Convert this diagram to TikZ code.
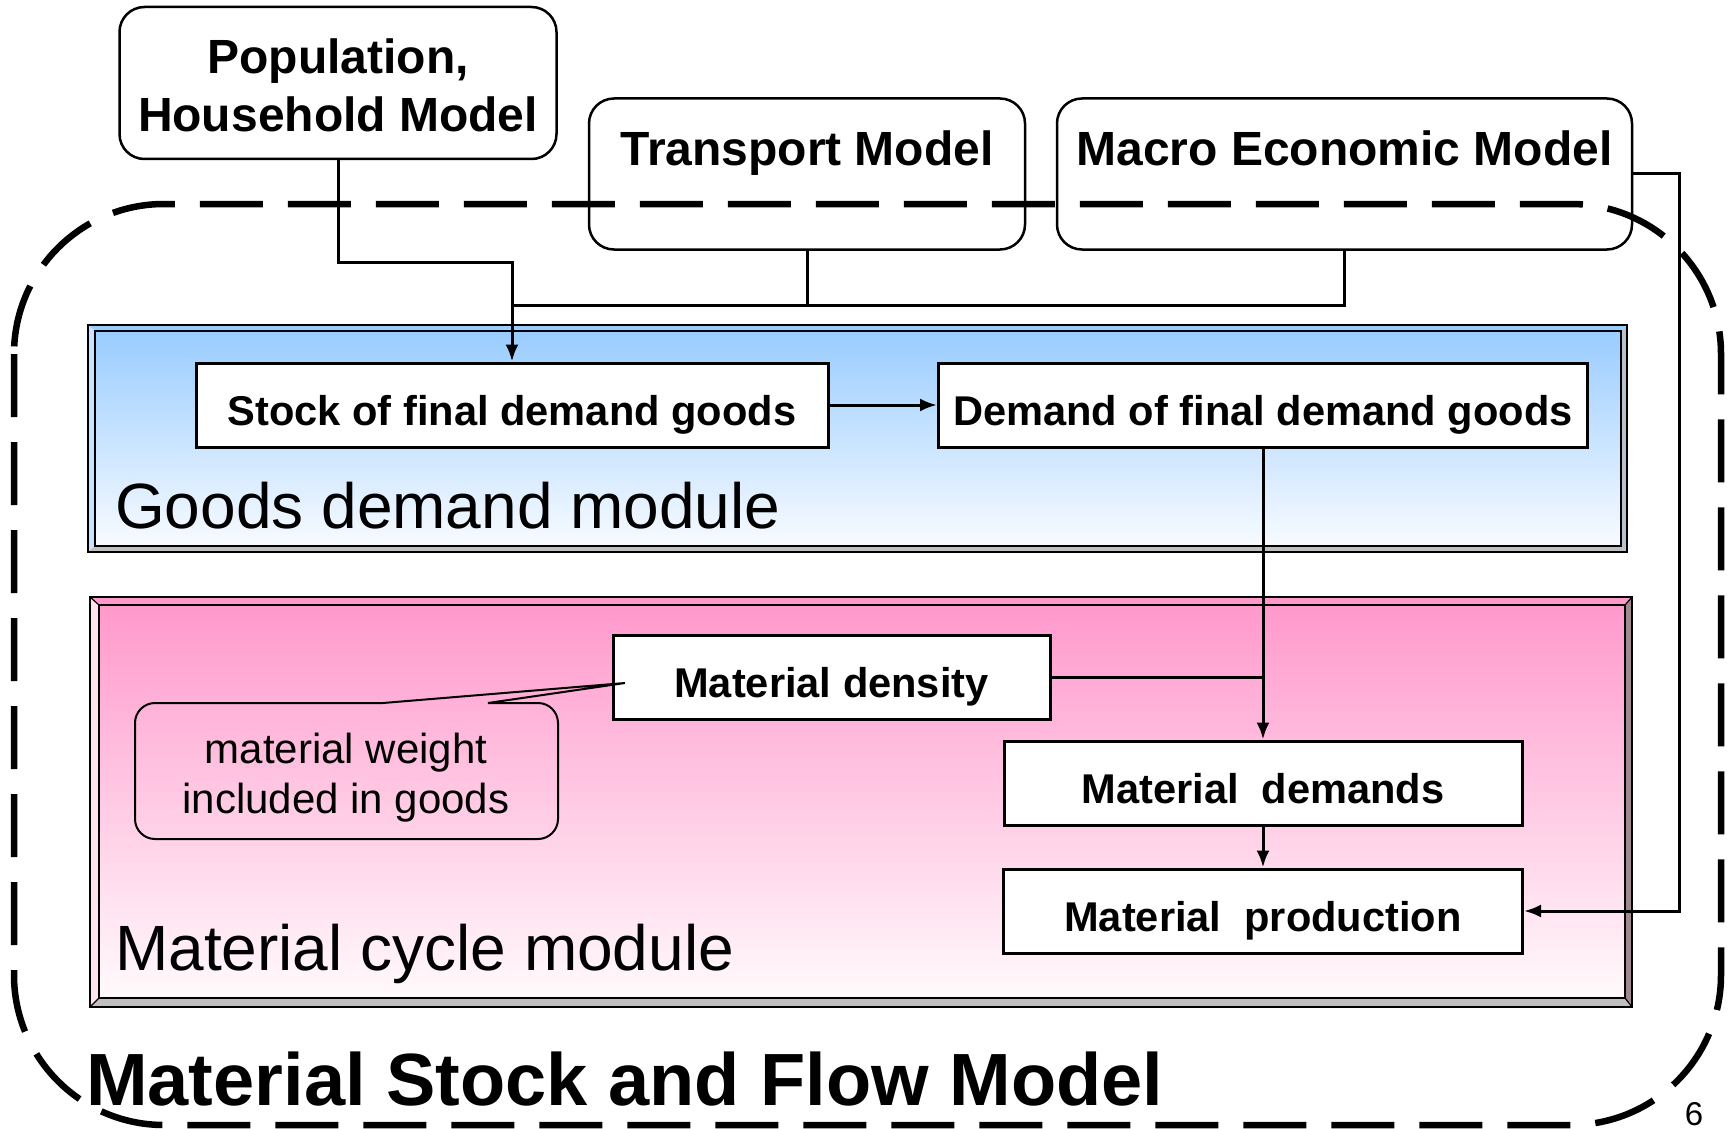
\documentclass[tikz,border=0pt]{standalone}
\usepackage{fontspec}
\setmainfont{Liberation Sans}
\usetikzlibrary{arrows.meta}

\definecolor{blueTop}{HTML}{99CCFF}
\definecolor{blueBot}{HTML}{F8FBFF}
\definecolor{blueEdge}{HTML}{C8E2FF}
\definecolor{pinkTop}{HTML}{FF99CC}
\definecolor{pinkBot}{HTML}{FFFAFC}
\definecolor{pinkEdge}{HTML}{FFE4F0}
\definecolor{bevelGray}{HTML}{C0C0C0}
\definecolor{bevelDark}{HTML}{A08890}

\tikzset{
  topbox/.style={draw, line width=2.5pt, rounded corners=25pt, fill=white, inner sep=0pt},
  topfont/.style={anchor=base, inner sep=0pt, font=\fontsize{48}{58}\selectfont\bfseries},
  flowbox/.style={draw, line width=3pt, fill=white, inner sep=0pt,
                  text height=42pt, text depth=2pt,
                  font=\fontsize{41.6}{50}\selectfont\bfseries},
  modlabel/.style={anchor=base west, inner sep=0pt, font=\fontsize{64}{70}\selectfont},
  conn/.style={line width=3pt},
  arr/.style={conn, -{Latex[length=17pt,width=13pt]}},
  outline/.style={line width=6.5pt, dash pattern=on 63pt off 25pt, rounded corners=150pt},
  edge/.style={draw=black, line width=1.8pt}
}

\begin{document}
\begin{tikzpicture}[x=1pt, y=-1pt]
\useasboundingbox (0,0) rectangle (1733,1129);
\fill[white] (0,0) rectangle (1733,1129);

% ---- goods demand module: bevelled frame with blue fade ----
\fill[blueTop] (88,325) -- (1627,325) -- (1621,331) -- (95,331) -- cycle;
\fill[blueEdge] (88,325) -- (95,331) -- (95,546) -- (88,552) -- cycle;
\fill[bevelGray] (88,552) -- (95,546) -- (1621,546) -- (1627,552) -- cycle;
\fill[bevelGray!80!blueTop] (1627,325) -- (1621,331) -- (1621,546) -- (1627,552) -- cycle;
\shade[top color=blueTop, bottom color=blueBot] (95,331) rectangle (1621,546);
\draw[edge] (88,325) rectangle (1627,552);
\draw[edge] (95,331) rectangle (1621,546);
\node[modlabel] (gdm) at (115,528) {Goods demand module};

% ---- material cycle module: bevelled frame with pink fade ----
\fill[pinkTop] (90,597) -- (1632,597) -- (1625,605) -- (99,605) -- cycle;
\fill[pinkEdge] (90,597) -- (99,605) -- (99,998) -- (90,1007) -- cycle;
\fill[bevelGray] (90,1007) -- (99,998) -- (1625,998) -- (1632,1007) -- cycle;
\fill[bevelDark] (1632,597) -- (1625,605) -- (1625,998) -- (1632,1007) -- cycle;
\shade[top color=pinkTop, bottom color=pinkBot] (99,605) rectangle (1625,998);
\draw[edge] (90,597) rectangle (1632,1007);
\draw[edge] (99,605) rectangle (1625,998);
\draw[line width=1.2pt] (90,597) -- (99,605) (1632,597) -- (1625,605)
      (90,1007) -- (99,998) (1632,1007) -- (1625,998);
\node[modlabel] (mcm) at (115,970) {Material cycle module};

% ---- outside models ----
\node[topbox, minimum width=437pt, minimum height=152pt] (pop) at (338,83) {};
\node[topfont] (poptxt1) at (338,74) {Population,};
\node[topfont] (poptxt2) at (338,132) {Household Model};
\node[topbox, minimum width=436pt, minimum height=151pt] (trans) at (807,174) {};
\node[topfont] (transtxt) at (807,165) {Transport Model};
\node[topbox, minimum width=575pt, minimum height=151pt] (macro) at (1344.5,174) {};
\node[topfont] (macrotxt) at (1344.5,165) {Macro Economic Model};

% ---- process boxes ----
\node[flowbox, minimum width=632pt, minimum height=84pt] (stock) at (512,405) {Stock of final demand goods};
\node[flowbox, minimum width=649pt, minimum height=84pt] (demand) at (1263,405) {Demand of final demand goods};
\node[flowbox, minimum width=437pt, minimum height=84pt] (dens) at (831.5,677) {Material density};
\node[flowbox, minimum width=518pt, minimum height=84pt] (mdem) at (1263,783) {Material~~demands};
\node[flowbox, minimum width=519pt, minimum height=84pt] (mprod) at (1263,911) {Material~~production};

% ---- note attached to the density box ----
\draw[line width=2pt, fill=none] (383,703) -- (625,683) -- (488,703)
      [rounded corners=20pt] -- (558,703) -- (558,839) -- (135,839) -- (135,703) -- (383,703);
\node[align=center, inner sep=0pt, font=\fontsize{42}{50}\selectfont] (note) at (346,778)
      {material weight\\included in goods};

% ---- connectors ----
\coordinate (j1) at (512,262);
\coordinate (j2) at (512,305);
\coordinate (rt) at (1679,174);
\draw[conn] (trans.south) |- (j2);
\draw[conn] (macro.south) |- (j2);
\draw[arr] (pop.south) |- (j1) -- (stock.north);
\draw[arr] (stock.east) -- (demand.west);
\draw[arr] (demand.south) -- (mdem.north);
\draw[conn] (dens.east) -- (dens.east -| demand.south);
\draw[arr] (mdem.south) -- (mprod.north);
\draw[arr] (macro.east) -- (rt) |- (mprod.east);

% ---- dashed outline of the whole model ----
\draw[outline] (14,204) rectangle (1721,1125);
\node[anchor=base west, inner sep=0pt, font=\fontsize{74}{80}\selectfont\bfseries] (title)
      at (86,1105) {Material Stock and Flow Model};
\node[anchor=base, inner sep=0pt, font=\fontsize{33}{36}\selectfont] (pagenum) at (1694,1125) {6};
\end{tikzpicture}
\end{document}
